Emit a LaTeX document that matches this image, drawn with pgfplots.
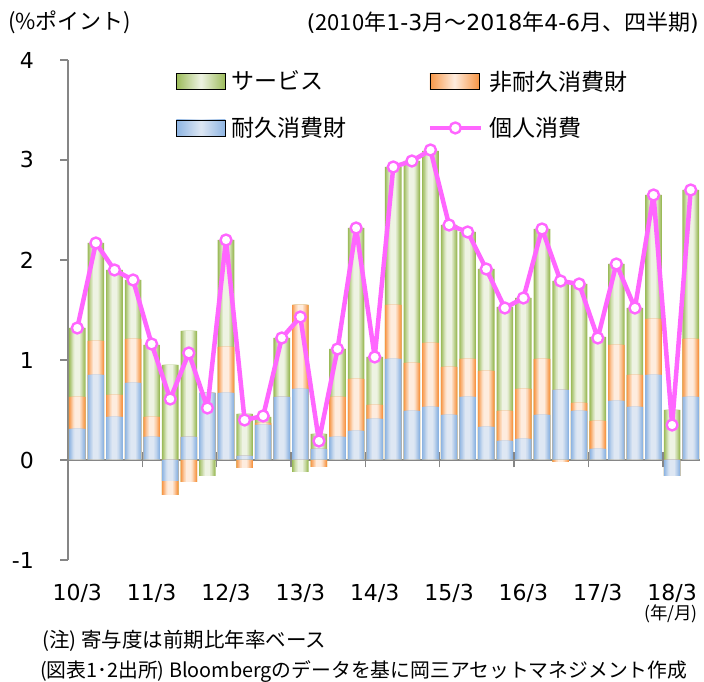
\documentclass[border=0pt]{standalone}
\usepackage{pgfplots}
\usepackage{pgfplotstable}
\pgfplotsset{compat=1.18}
\usepackage{fontspec}
\setmainfont{DejaVu Sans}
\newfontfamily\jp{Noto Sans CJK JP}
\definecolor{gE}{RGB}{155,187,89}
\definecolor{gM}{RGB}{238,243,227}
\definecolor{oE}{RGB}{247,150,70}
\definecolor{oM}{RGB}{254,236,222}
\definecolor{bE}{RGB}{141,180,226}
\definecolor{bM}{RGB}{222,231,243}
\definecolor{pk}{RGB}{255,102,255}
\definecolor{ax}{RGB}{134,134,134}

% dp,np,sp = positive parts (durables, non-durables, services); dn,nn,sn = negative parts; tot = personal consumption
\pgfplotstableread{
x  dp   np   sp    dn    nn    sn    tot
0  0.31 0.32 0.69  0     0     0     1.32
1  0.85 0.34 0.98  0     0     0     2.17
2  0.43 0.22 1.25  0     0     0     1.90
3  0.77 0.44 0.59  0     0     0     1.80
4  0.23 0.20 0.72  0     0     0     1.16
5  0    0    0.95  -0.21 -0.14 0     0.61
6  0.23 0    1.06  0     -0.22 0     1.07
7  0.67 0    0     0     0     -0.16 0.52
8  0.67 0.46 1.07  0     0     0     2.20
9  0.04 0    0.42  0     -0.08 0     0.40
10 0.35 0.02 0.06  0     0     0     0.44
11 0.63 0    0.59  0     0     0     1.22
12 0.71 0.84 0     0     0     -0.12 1.43
13 0.11 0    0.15  0     -0.07 0     0.19
14 0.23 0.40 0.48  0     0     0     1.11
15 0.29 0.52 1.51  0     0     0     2.32
16 0.41 0.14 0.48  0     0     0     1.03
17 1.01 0.54 1.38  0     0     0     2.93
18 0.49 0.48 2.02  0     0     0     2.99
19 0.53 0.64 1.92  0     0     0     3.10
20 0.45 0.48 1.42  0     0     0     2.35
21 0.63 0.38 1.27  0     0     0     2.28
22 0.33 0.56 1.02  0     0     0     1.91
23 0.19 0.30 1.04  0     0     0     1.52
24 0.21 0.50 0.91  0     0     0     1.62
25 0.45 0.56 1.30  0     0     0     2.31
26 0.70 0    1.09  0     -0.02 0     1.79
27 0.49 0.08 1.19  0     0     0     1.76
28 0.11 0.28 0.84  0     0     0     1.22
29 0.59 0.56 0.81  0     0     0     1.96
30 0.53 0.32 0.67  0     0     0     1.52
31 0.85 0.56 1.24  0     0     0     2.65
32 0    0    0.50  -0.16 0     0     0.35
33 0.63 0.58 1.49  0     0     0     2.70
}\data

% one stacked segment drawn as layered bars (edge colour -> light centre)
\newcommand\shadedbar[3]{%
\addplot[ybar, bar shift=0pt, bar width=16.6pt, draw=none, fill=#1, forget plot] table[x=x,y expr={#3}]{\data};
\addplot[ybar, bar shift=0pt, bar width=14.5pt, draw=none, fill=#2!20!#1, forget plot] table[x=x,y expr={#3}]{\data};
\addplot[ybar, bar shift=0pt, bar width=12.4pt, draw=none, fill=#2!40!#1, forget plot] table[x=x,y expr={#3}]{\data};
\addplot[ybar, bar shift=0pt, bar width=10.3pt, draw=none, fill=#2!60!#1, forget plot] table[x=x,y expr={#3}]{\data};
\addplot[ybar, bar shift=0pt, bar width=8.2pt, draw=none, fill=#2!80!#1, forget plot] table[x=x,y expr={#3}]{\data};
\addplot[ybar, bar shift=0pt, bar width=5.6pt, draw=none, fill=#2, forget plot] table[x=x,y expr={#3}]{\data};
}

\pgfplotsset{
  base/.style={scale only axis, width=632pt, height=500pt,
    at={(68pt,122pt)}, anchor=south west,
    xmin=-0.5, xmax=33.5, ymin=-1, ymax=4},
  pline/.style={pk, line width=4.5pt, line join=round, mark=*, mark size=5.5pt,
    mark options={fill=white, draw=pk, line width=2.4pt}},
  plinelegend/.style={legend image code/.code={%
    \draw[mark repeat=2,mark phase=2,##1] plot coordinates {(0pt,0pt) (25.5pt,0pt) (51pt,0pt)};}},
  glegend/.style={legend image code/.code={%
    \fill[left color=gE,right color=gE,middle color=gM] (0pt,-8pt) rectangle (49pt,8pt);}},
  olegend/.style={legend image code/.code={%
    \fill[left color=oE,right color=oE,middle color=oM] (0pt,-8pt) rectangle (49pt,8pt);}},
  blegend/.style={legend image code/.code={%
    \fill[left color=bE,right color=bE,middle color=bM] (0pt,-8pt) rectangle (49pt,8pt);}},
}

\begin{document}
\begin{tikzpicture}
\useasboundingbox (0,0) rectangle (704pt,682pt);

% bars + axis lines
\begin{axis}[base,
  axis x line*=middle, axis y line*=left,
  hide obscured x ticks=false, hide obscured y ticks=false,
  axis line style={draw=ax, line width=1.4pt},
  xtick=\empty,
  ytick={-1,0,1,2,3,4}, yticklabels={-1,0,1,2,3,4},
  major tick length=8pt, ytick align=outside,
  tick style={draw=ax, line width=1.4pt},
  yticklabel style={font=\fontsize{22}{26}\selectfont, inner sep=0pt, anchor=east, xshift=-26pt},
]
% positive side: services on top of non-durables on top of durables
\shadedbar{gE}{gM}{\thisrow{dp}+\thisrow{np}+\thisrow{sp}}
\shadedbar{oE}{oM}{\thisrow{dp}+\thisrow{np}}
\shadedbar{bE}{bM}{\thisrow{dp}}
% negative side
\shadedbar{gE}{gM}{\thisrow{dn}+\thisrow{nn}+\thisrow{sn}}
\shadedbar{oE}{oM}{\thisrow{dn}+\thisrow{nn}}
\shadedbar{bE}{bM}{\thisrow{dn}}
\end{axis}

% year separator ticks crossing the zero line
\begin{axis}[base,
  hide y axis, axis x line*=middle, x axis line style={draw=none},
  xtick={3.5,7.5,...,31.5}, xticklabels={},
  major tick length=15pt, xtick align=center,
  xtick style={draw=ax, line width=1.4pt},
]
\addplot[draw=none, forget plot] coordinates {(0,0)};
\end{axis}

% x labels
\begin{axis}[base,
  hide y axis, axis x line*=bottom, x axis line style={draw=none},
  xtick={0,4,...,32},
  xticklabels={10/3,11/3,12/3,13/3,14/3,15/3,16/3,17/3,18/3},
  xtick style={draw=none}, major tick length=0pt,
  xticklabel style={font=\fontsize{22}{26}\selectfont, inner sep=0pt, anchor=north, yshift=-24pt},
]
\addplot[draw=none, forget plot] coordinates {(0,0)};
\end{axis}

% line + legend
\begin{axis}[base, hide axis,
  legend columns=2, legend cell align=left,
  legend style={draw=none, fill=none, at={(axis cs:5.31,3.915)}, anchor=north west, inner sep=0pt,
    nodes={inner sep=2pt, font=\jp\fontsize{23}{27}\selectfont},
    /tikz/column 1/.style={column sep=4pt},
    /tikz/column 2/.style={column sep=79pt},
    /tikz/column 3/.style={column sep=4pt},
    row sep=22pt},
]
\addplot[pline, forget plot] table[x=x,y=tot]{\data};
\addlegendimage{glegend}
\addlegendentry{サービス}
\addlegendimage{olegend}
\addlegendentry{非耐久消費財}
\addlegendimage{blegend}
\addlegendentry{耐久消費財}
\addlegendimage{pline, plinelegend}
\addlegendentry{個人消費}
\end{axis}

% texts
\node[anchor=base west, inner sep=0pt, font=\jp\fontsize{22}{26}\selectfont] at (8pt,652pt) {(\%ポイント)};
\node[anchor=base east, inner sep=0pt, font=\fontsize{22}{26}\selectfont] at (699pt,651pt)
  {({\jp 2010年}1-3{\jp 月～}2018{\jp 年}4-6{\jp 月、四半期})};
\node[inner sep=0pt, font=\jp\fontsize{17.5}{20}\selectfont] at (671pt,68pt) {(年/月)};
\node[anchor=base west, inner sep=0pt, font=\jp\fontsize{20.5}{24}\selectfont] at (42pt,34pt) {(注) 寄与度は前期比年率ベース};
\node[anchor=base west, inner sep=0pt, font=\jp\fontsize{19.8}{24}\selectfont] at (40pt,4pt) {(図表1･2出所) Bloombergのデータを基に岡三アセットマネジメント作成};
\end{tikzpicture}
\end{document}
